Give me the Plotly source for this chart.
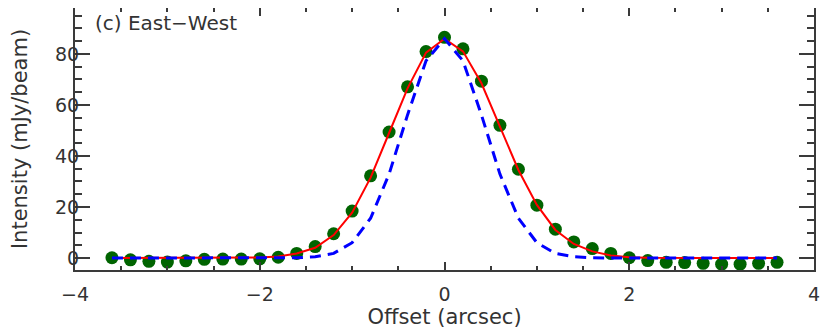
import plotly.graph_objects as go

# オフセット (arcsec)
offset = [-3.6, -3.4, -3.2, -3.0, -2.8, -2.6, -2.4, -2.2, -2.0, -1.8,
          -1.6, -1.4, -1.2, -1.0, -0.8, -0.6, -0.4, -0.2, 0.0, 0.2,
          0.4, 0.6, 0.8, 1.0, 1.2, 1.4, 1.6, 1.8, 2.0, 2.2,
          2.4, 2.6, 2.8, 3.0, 3.2, 3.4, 3.6]

# 観測データ (mJy/beam)
observed = [0.1, -0.7, -1.3, -1.6, -1.1, -0.5, -0.4, -0.4, -0.3, 0.3,
            1.8, 4.5, 9.5, 18.4, 32.2, 49.4, 67.1, 80.9, 86.5, 82.0,
            69.3, 52.0, 34.8, 20.7, 11.3, 6.3, 3.7, 1.8, 0.1, -1.0,
            -1.7, -1.8, -2.1, -2.4, -2.4, -2.1, -1.7]

# フィット結果
fit = [0.0, 0.0, 0.0, 0.0, 0.0, 0.0, 0.0, 0.1, 0.2, 0.6,
       1.8, 4.0, 9.0, 17.8, 31.5, 49.0, 66.5, 80.5, 86.0, 81.0,
       68.5, 51.5, 34.5, 20.8, 11.0, 5.5, 2.6, 1.0, 0.3, 0.1,
       0.0, 0.0, 0.0, 0.0, 0.0, 0.0, 0.0]

# ビーム (破線)
beam = [0.0, 0.0, 0.0, 0.0, 0.0, 0.0, 0.0, 0.0, 0.0, 0.0,
        0.1, 0.5, 1.8, 6.0, 15.6, 32.9, 56.1, 77.3, 86.0, 77.3,
        56.1, 32.9, 15.6, 6.0, 1.8, 0.5, 0.1, 0.0, 0.0, 0.0,
        0.0, 0.0, 0.0, 0.0, 0.0, 0.0, 0.0]

axis_color = '#3a3a3a'
text_color = '#333333'
font_family = 'DejaVu Sans'

fig = go.Figure()

fig.add_trace(go.Scatter(
    x=offset, y=observed, mode='markers',
    marker=dict(color='#006400', size=13, line=dict(width=0)),
    showlegend=False
))

fig.add_trace(go.Scatter(
    x=offset, y=fit, mode='lines',
    line=dict(color='#ff0000', width=2),
    showlegend=False
))

fig.add_trace(go.Scatter(
    x=offset, y=beam, mode='lines',
    line=dict(color='#0000ff', width=3, dash='11px,7px'),
    showlegend=False
))

# ページの余白 (8px) を考慮してサイズを少し小さくする
fig.update_layout(
    width=822, height=322,
    margin=dict(l=67, r=16, t=0, b=60, autoexpand=False),
    plot_bgcolor='white', paper_bgcolor='white',
    font=dict(family=font_family, size=19, color=text_color),
    annotations=[dict(
        text='(c) East\u2212West', xref='paper', yref='paper',
        x=0.024, y=0.995, xanchor='left', yanchor='top',
        showarrow=False, font=dict(size=20, color=text_color)
    )]
)

fig.update_xaxes(
    range=[-4, 4], dtick=2, tick0=0,
    ticks='inside', ticklen=8, tickwidth=1.5, tickcolor=axis_color,
    minor=dict(dtick=0.5, ticks='inside', ticklen=4, tickcolor=axis_color),
    showline=True, linewidth=2, linecolor=axis_color, mirror='ticks',
    showgrid=False, zeroline=False, ticklabelstandoff=6,
    title=dict(text='Offset (arcsec)', standoff=2, font=dict(size=21))
)

fig.update_yaxes(
    range=[-4.7, 98.0], dtick=20, tick0=0,
    ticks='inside', ticklen=15, tickwidth=1.5, tickcolor=axis_color,
    minor=dict(dtick=5, ticks='inside', ticklen=7, tickcolor=axis_color),
    showline=True, linewidth=2, linecolor=axis_color, mirror='ticks',
    showgrid=False, zeroline=False, ticklabelstandoff=-10,
    title=dict(text='Intensity (mJy/beam)', standoff=30, font=dict(size=21))
)

fig.write_html("out.html")
